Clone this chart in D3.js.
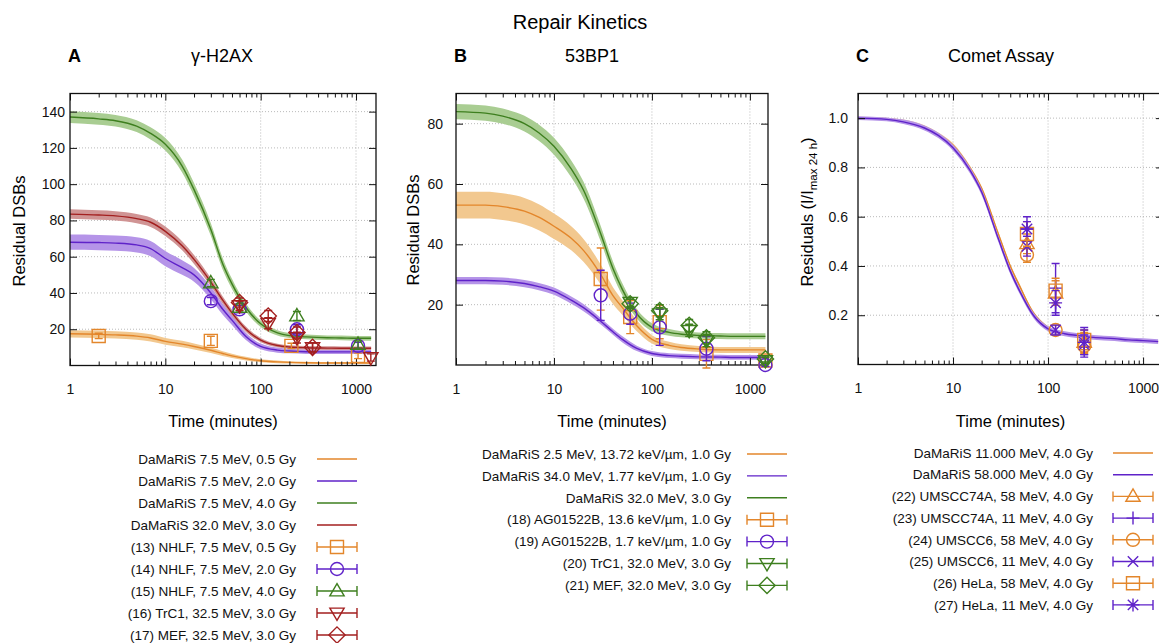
<!DOCTYPE html>
<html>
<head>
<meta charset="utf-8">
<script src="https://cdn.jsdelivr.net/npm/d3@7"></script>
<style>
  body { margin: 0; background: #fff; }
  svg { font-family: "Liberation Sans", Arial, Helvetica, sans-serif; }
</style>
</head>
<body>
<svg id="chart" width="1159" height="643"></svg>
<script>
// sample times (minutes) for the model curves
const times = [1, 2, 3, 5, 7, 10, 15, 20, 30, 40, 50, 70, 100, 150, 200, 300, 500, 700, 1000, 1440];

// ---- panel A (gamma-H2AX) model curves + band half widths
const aOrange = [17.5, 17.2, 16.9, 16.2, 15.2, 13.3, 11.8, 10.5, 8.4, 6.6, 5.3, 3.8, 2.6, 2.0, 1.7, 1.5, 1.4, 1.4, 1.4, 1.4];
const aOrangeBand = [2.0, 2.0, 2.0, 2.0, 2.0, 1.9, 1.8, 1.7, 1.5, 1.3, 1.2, 1.0, 0.8, 0.7, 0.6, 0.5, 0.5, 0.5, 0.5, 0.5];
const aPurple = [68, 67.8, 67.5, 66.5, 64.5, 59, 54, 50, 40, 31, 25, 16, 10.5, 8.5, 8, 7.6, 7.5, 7.5, 7.5, 7.5];
const aPurpleBand = [4.2, 4.2, 4.2, 4.2, 4.2, 4.2, 4.0, 3.8, 3.4, 3.0, 2.6, 2.0, 1.6, 1.4, 1.3, 1.2, 1.2, 1.2, 1.2, 1.2];
const aGreen = [137, 136, 135, 132, 128, 122, 110, 97, 75, 56, 45, 32, 23, 18, 16.5, 15.8, 15.3, 15.2, 15, 15];
const aGreenBand = [3.2, 3.2, 3.2, 3.3, 3.4, 3.5, 3.6, 3.6, 3.5, 3.2, 2.8, 2.2, 1.8, 1.5, 1.4, 1.3, 1.3, 1.3, 1.3, 1.3];
const aRed = [83.5, 83, 82.5, 81, 79, 74, 66, 58.5, 46, 36, 29, 20, 14, 11, 10.2, 9.8, 9.6, 9.5, 9.5, 9.5];
const aRedBand = [2.6, 2.6, 2.6, 2.6, 2.6, 2.6, 2.5, 2.5, 2.3, 2.0, 1.8, 1.5, 1.2, 1.0, 1.0, 1.0, 1.0, 1.0, 1.0, 1.0];

// panel A measurements
const nhlf05T = [2, 30, 210, 1050], nhlf05V = [16.3, 13.6, 10.8, 5.3], nhlf05E = [1.5, 2.5, 1.5, 1.5];
const nhlf20T = [30, 60, 240, 1050], nhlf20V = [35.5, 31, 20, 10.8], nhlf20E = [2, 2, 2.5, 2];
const nhlf40T = [30, 60, 240, 1050], nhlf40V = [45.5, 32, 27.3, 11.6], nhlf40E = [2, 2, 2.5, 2];
const trc1aT = [60, 120, 240, 350, 1430], trc1aV = [33, 23.3, 15.4, 9.9, 4.4], trc1aE = [2.5, 3, 3, 2.5, 2];
const mefaT = [60, 120, 240, 350], mefaV = [34.7, 27.3, 18.2, 10], mefaE = [2.5, 3, 3, 2.5];

// ---- panel B (53BP1)
const bOrange = [53, 53, 52.5, 51, 49, 46, 42, 38, 30, 23, 19, 13, 8.5, 6.5, 5.8, 5.3, 5, 5, 5, 5];
const bOrangeBand = [4.4, 4.4, 4.4, 4.4, 4.3, 4.2, 4.0, 3.8, 3.3, 2.8, 2.4, 1.8, 1.4, 1.2, 1.1, 1.0, 1.0, 1.0, 1.0, 1.0];
const bPurple = [28, 28, 27.8, 27, 26, 24.5, 21.5, 19, 14.5, 11, 8.5, 5.5, 3.8, 3.1, 2.9, 2.7, 2.6, 2.5, 2.5, 2.5];
const bPurpleBand = [1.2, 1.2, 1.2, 1.2, 1.2, 1.2, 1.2, 1.2, 1.1, 1.0, 1.0, 0.9, 0.8, 0.8, 0.8, 0.8, 0.8, 0.8, 0.8, 0.8];
const bGreen = [84, 83.5, 82.5, 80, 77, 72.5, 65, 58, 43.5, 32, 25, 17, 12.5, 10.8, 10.2, 9.8, 9.6, 9.5, 9.5, 9.5];
const bGreenBand = [2.5, 2.5, 2.5, 2.6, 2.7, 2.8, 2.8, 2.8, 2.6, 2.3, 2.0, 1.6, 1.3, 1.1, 1.0, 1.0, 1.0, 1.0, 1.0, 1.0];

const ag136T = [30, 60, 120, 360, 1440], ag136V = [28.5, 15.9, 14.2, 3.7, 1.5], ag136E = [10.3, 5.5, 5.5, 4.7, 1];
const ag17T = [30, 60, 120, 360, 1440], ag17V = [23.1, 17, 12.5, 5.4, 0], ag17E = [8.3, 3.5, 6, 4, 0.5];
const trc1bT = [60, 120, 240, 360, 1440], trc1bV = [20.8, 17, 11.5, 8.1, 1.5], trc1bE = [1.5, 2, 2, 2, 1];
const mefbT = [60, 120, 240, 360, 1440], mefbV = [20.3, 18, 13.1, 9, 2], mefbE = [1.5, 2, 2, 2, 1];

// ---- panel C (comet assay)
const cOrange = [1.0, 0.996, 0.988, 0.965, 0.935, 0.89, 0.80, 0.715, 0.53, 0.40, 0.32, 0.21, 0.15, 0.125, 0.118, 0.11, 0.105, 0.1, 0.097, 0.093];
const cOrangeBand = [0.006, 0.006, 0.006, 0.006, 0.007, 0.008, 0.008, 0.008, 0.008, 0.008, 0.008, 0.007, 0.006, 0.006, 0.006, 0.006, 0.006, 0.006, 0.006, 0.006];
const cPurple = [1.0, 0.995, 0.985, 0.96, 0.93, 0.88, 0.79, 0.70, 0.51, 0.38, 0.30, 0.20, 0.145, 0.125, 0.118, 0.11, 0.105, 0.1, 0.097, 0.093];
const cPurpleBand = [0.008, 0.008, 0.009, 0.01, 0.011, 0.012, 0.013, 0.013, 0.013, 0.013, 0.012, 0.011, 0.01, 0.01, 0.01, 0.01, 0.01, 0.01, 0.01, 0.01];

const cT = [60, 120, 240];
const u74a58V = [0.49, 0.29, 0.09], u74a58E = [0.04, 0.05, 0.04];
const u74a11V = [0.55, 0.31, 0.09], u74a11E = [0.05, 0.1, 0.06];
const u6_58V = [0.445, 0.14, 0.075], u6_58E = [0.03, 0.02, 0.03];
const u6_11V = [0.48, 0.14, 0.08], u6_11E = [0.04, 0.02, 0.04];
const hela58V = [0.53, 0.30, 0.10], hela58E = [0.05, 0.05, 0.04];
const hela11V = [0.55, 0.25, 0.09], hela11E = [0.03, 0.05, 0.05];

const col = { orange: '#e3862b', purple: '#5f22c9', green: '#3e7f1f', red: '#a31f1f' };
const bandCol = { orange: '#f2c88f', purple: '#b594e8', green: '#a9cd92', red: '#d09494' };

const svg = d3.select('#chart');

function shapePath(type, s) {
  const k = s * 0.8, d = s * 1.25;
  const plus = `M${-s},0H${s}M0,${-s}V${s}`;
  const times_ = `M${-k},${-k}L${k},${k}M${-k},${k}L${k},${-k}`;
  switch (type) {
    case 'square': return `M${-s},${-s}H${s}V${s}H${-s}Z`;
    case 'circle': return `M${s},0A${s},${s} 0 1,1 ${-s},0A${s},${s} 0 1,1 ${s},0Z`;
    case 'tri': return `M0,${-s * 1.15}L${s * 1.1},${s * 0.75}L${-s * 1.1},${s * 0.75}Z`;
    case 'tridown': return `M0,${s * 1.15}L${s * 1.1},${-s * 0.75}L${-s * 1.1},${-s * 0.75}Z`;
    case 'diamond': return `M0,${-d}L${d},0L0,${d}L${-d},0Z`;
    case 'plus': return plus;
    case 'times': return times_;
    case 'star': return plus + times_;
  }
}

function drawPanel(p) {
  const x = d3.scaleLog().domain(p.xDomain).range([p.left, p.right]);
  const y = d3.scaleLinear().domain(p.yDomain).range([p.bottom, p.top]);
  const g = svg.append('g');

  const clipId = 'clip' + p.id;
  g.append('clipPath').attr('id', clipId).append('rect')
    .attr('x', p.left).attr('y', p.top)
    .attr('width', p.right - p.left).attr('height', p.bottom - p.top);

  // grid
  g.selectAll('.gx').data([10, 100, 1000]).join('line')
    .attr('x1', d => x(d)).attr('x2', d => x(d))
    .attr('y1', p.top).attr('y2', p.bottom)
    .attr('stroke', '#a8a8a8').attr('stroke-width', 0.8).attr('stroke-dasharray', '1,2');
  g.selectAll('.gy').data(p.yTicks).join('line')
    .attr('x1', p.left).attr('x2', p.right)
    .attr('y1', d => y(d)).attr('y2', d => y(d))
    .attr('stroke', '#a8a8a8').attr('stroke-width', 0.8).attr('stroke-dasharray', '1,2');

  // model curves with bands
  const cg = g.append('g').attr('clip-path', `url(#${clipId})`);
  p.curves.forEach(c => {
    const pts = times.map((t, i) => ({ t, v: c.v[i], b: c.b[i] }));
    cg.append('path').datum(pts)
      .attr('fill', bandCol[c.color])
      .attr('d', d3.area().curve(d3.curveMonotoneX)
        .x(d => x(d.t)).y0(d => y(d.v - d.b)).y1(d => y(d.v + d.b)));
    cg.append('path').datum(pts)
      .attr('fill', 'none').attr('stroke', col[c.color]).attr('stroke-width', 1.4)
      .attr('d', d3.line().curve(d3.curveMonotoneX).x(d => x(d.t)).y(d => y(d.v)));
  });

  // axes (inward ticks)
  const minor = [];
  [1, 10, 100, 1000].forEach(dec => { for (let k = 2; k <= 9; k++) if (dec * k <= p.xDomain[1]) minor.push(dec * k); });
  const major = [1, 10, 100, 1000];

  const fixText = sel => sel.attr('font-family', null).attr('font-size', null);
  const bx = g.append('g').attr('transform', `translate(0,${p.bottom})`)
    .call(d3.axisBottom(x).tickValues(major).tickSize(-7).tickPadding(19).tickFormat(d3.format('d')));
  bx.call(fixText).selectAll('text').attr('font-size', 14).attr('fill', '#111');
  g.append('g').attr('transform', `translate(0,${p.bottom})`)
    .call(d3.axisBottom(x).tickValues(minor).tickSize(-4).tickFormat(''));
  g.append('g').attr('transform', `translate(0,${p.top})`)
    .call(d3.axisTop(x).tickValues(major).tickSize(-7).tickFormat(''));
  g.append('g').attr('transform', `translate(0,${p.top})`)
    .call(d3.axisTop(x).tickValues(minor).tickSize(-4).tickFormat(''));
  const ly = g.append('g').attr('transform', `translate(${p.left},0)`)
    .call(d3.axisLeft(y).tickValues(p.yTicks).tickSize(-7).tickPadding(p.yPad).tickFormat(p.yFmt));
  ly.call(fixText).selectAll('text').attr('font-size', 14).attr('fill', '#111');
  g.append('g').attr('transform', `translate(${p.right},0)`)
    .call(d3.axisRight(y).tickValues(p.yTicks).tickSize(-7).tickFormat(''));
  g.selectAll('.domain').remove();
  g.selectAll('.tick line').attr('stroke', '#111').attr('stroke-width', 1);

  // frame
  g.append('rect').attr('x', p.left).attr('y', p.top)
    .attr('width', p.right - p.left).attr('height', p.bottom - p.top)
    .attr('fill', 'none').attr('stroke', '#111').attr('stroke-width', 1.3);

  // measured points with error bars
  p.points.forEach(s => {
    const pg = g.append('g').attr('stroke', col[s.color]).attr('stroke-width', 1.4).attr('fill', 'none');
    s.t.forEach((t, i) => {
      const cx = x(t), cy = y(s.v[i]);
      const y0 = y(s.v[i] - s.e[i]), y1 = y(s.v[i] + s.e[i]);
      pg.append('path').attr('d', `M${cx},${y0}V${y1}M${cx - 4},${y0}H${cx + 4}M${cx - 4},${y1}H${cx + 4}`);
      pg.append('path').attr('transform', `translate(${cx},${cy})`).attr('d', shapePath(s.shape, 6.5));
    });
  });

  // titles and labels
  svg.append('text').attr('x', p.left - 2).attr('y', 62).attr('font-size', 18).attr('font-weight', 'bold').text(p.letter);
  svg.append('text').attr('x', p.titleX).attr('y', 62).attr('font-size', 18).attr('text-anchor', 'middle').text(p.title);
  svg.append('text').attr('x', (p.left + p.right) / 2).attr('y', 427).attr('font-size', 16.5)
    .attr('text-anchor', 'middle').text('Time (minutes)');
  const yl = svg.append('text').attr('transform', `translate(${p.yLabelX},${p.yLabelY}) rotate(-90)`)
    .attr('font-size', 16.5).attr('text-anchor', 'middle');
  p.yLabel(yl);

  // legend
  p.legend.forEach((e, i) => {
    const ry = p.legY + i * p.legStep;
    svg.append('text').attr('x', p.legText).attr('y', ry).attr('dy', '0.35em')
      .attr('text-anchor', 'end').attr('font-size', 13.5).attr('fill', '#111').text(e.label);
    const lg = svg.append('g').attr('stroke', col[e.color]).attr('stroke-width', 1.4).attr('fill', 'none');
    const [x1, x2] = p.legLine;
    if (!e.shape) {
      lg.append('path').attr('d', `M${x1},${ry}H${x2}`);
    } else {
      lg.append('path').attr('d', `M${x1},${ry}H${x2}M${x1},${ry - 5}V${ry + 5}M${x2},${ry - 5}V${ry + 5}`);
      lg.append('path').attr('transform', `translate(${(x1 + x2) / 2},${ry})`).attr('d', shapePath(e.shape, 6.5));
    }
  });
}

svg.append('text').attr('x', 580).attr('y', 29).attr('font-size', 20).attr('text-anchor', 'middle').text('Repair Kinetics');

drawPanel({
  id: 'A', letter: 'A', title: 'γ-H2AX', titleX: 222,
  left: 70, right: 376, top: 93.5, bottom: 365.5,
  xDomain: [1, 1620], yDomain: [0, 150], yTicks: [20, 40, 60, 80, 100, 120, 140], yPad: 5, yFmt: d3.format('d'),
  yLabelX: 25, yLabelY: 231, yLabel: t => t.text('Residual DSBs'),
  curves: [
    { v: aOrange, b: aOrangeBand, color: 'orange' },
    { v: aPurple, b: aPurpleBand, color: 'purple' },
    { v: aGreen, b: aGreenBand, color: 'green' },
    { v: aRed, b: aRedBand, color: 'red' }
  ],
  points: [
    { t: nhlf05T, v: nhlf05V, e: nhlf05E, color: 'orange', shape: 'square' },
    { t: nhlf20T, v: nhlf20V, e: nhlf20E, color: 'purple', shape: 'circle' },
    { t: nhlf40T, v: nhlf40V, e: nhlf40E, color: 'green', shape: 'tri' },
    { t: trc1aT, v: trc1aV, e: trc1aE, color: 'red', shape: 'tridown' },
    { t: mefaT, v: mefaV, e: mefaE, color: 'red', shape: 'diamond' }
  ],
  legText: 296, legLine: [317, 357], legY: 459, legStep: 22,
  legend: [
    { label: 'DaMaRiS 7.5 MeV, 0.5 Gy', color: 'orange' },
    { label: 'DaMaRiS 7.5 MeV, 2.0 Gy', color: 'purple' },
    { label: 'DaMaRiS 7.5 MeV, 4.0 Gy', color: 'green' },
    { label: 'DaMaRiS 32.0 MeV, 3.0 Gy', color: 'red' },
    { label: '(13) NHLF, 7.5 MeV, 0.5 Gy', color: 'orange', shape: 'square' },
    { label: '(14) NHLF, 7.5 MeV, 2.0 Gy', color: 'purple', shape: 'circle' },
    { label: '(15) NHLF, 7.5 MeV, 4.0 Gy', color: 'green', shape: 'tri' },
    { label: '(16) TrC1, 32.5 MeV, 3.0 Gy', color: 'red', shape: 'tridown' },
    { label: '(17) MEF, 32.5 MeV, 3.0 Gy', color: 'red', shape: 'diamond' }
  ]
});

drawPanel({
  id: 'B', letter: 'B', title: '53BP1', titleX: 592,
  left: 456, right: 768, top: 93.5, bottom: 365,
  xDomain: [1, 1530], yDomain: [0, 90], yTicks: [20, 40, 60, 80], yPad: 13, yFmt: d3.format('d'),
  yLabelX: 419, yLabelY: 230, yLabel: t => t.text('Residual DSBs'),
  curves: [
    { v: bOrange, b: bOrangeBand, color: 'orange' },
    { v: bPurple, b: bPurpleBand, color: 'purple' },
    { v: bGreen, b: bGreenBand, color: 'green' }
  ],
  points: [
    { t: ag136T, v: ag136V, e: ag136E, color: 'orange', shape: 'square' },
    { t: ag17T, v: ag17V, e: ag17E, color: 'purple', shape: 'circle' },
    { t: trc1bT, v: trc1bV, e: trc1bE, color: 'green', shape: 'tridown' },
    { t: mefbT, v: mefbV, e: mefbE, color: 'green', shape: 'diamond' }
  ],
  legText: 731, legLine: [747, 787], legY: 454, legStep: 21.9,
  legend: [
    { label: 'DaMaRiS 2.5 MeV, 13.72 keV/µm, 1.0 Gy', color: 'orange' },
    { label: 'DaMaRiS 34.0 MeV, 1.77 keV/µm, 1.0 Gy', color: 'purple' },
    { label: 'DaMaRiS 32.0 MeV, 3.0 Gy', color: 'green' },
    { label: '(18) AG01522B, 13.6 keV/µm, 1.0 Gy', color: 'orange', shape: 'square' },
    { label: '(19) AG01522B, 1.7 keV/µm, 1.0 Gy', color: 'purple', shape: 'circle' },
    { label: '(20) TrC1, 32.0 MeV, 3.0 Gy', color: 'green', shape: 'tridown' },
    { label: '(21) MEF, 32.0 MeV, 3.0 Gy', color: 'green', shape: 'diamond' }
  ]
});

drawPanel({
  id: 'C', letter: 'C', title: 'Comet Assay', titleX: 1001,
  left: 858, right: 1163, top: 93.5, bottom: 364.5,
  xDomain: [1, 1620], yDomain: [0, 1.1], yTicks: [0.2, 0.4, 0.6, 0.8, 1.0], yPad: 10, yFmt: d3.format('.1f'),
  yLabelX: 813, yLabelY: 212,
  yLabel: t => {
    t.append('tspan').text('Residuals (I/I');
    t.append('tspan').attr('font-size', 11.5).attr('dy', 4).text('max 24 h');
    t.append('tspan').attr('dy', -4).text(')');
  },
  curves: [
    { v: cOrange, b: cOrangeBand, color: 'orange' },
    { v: cPurple, b: cPurpleBand, color: 'purple' }
  ],
  points: [
    { t: cT, v: u74a58V, e: u74a58E, color: 'orange', shape: 'tri' },
    { t: cT, v: u74a11V, e: u74a11E, color: 'purple', shape: 'plus' },
    { t: cT, v: u6_58V, e: u6_58E, color: 'orange', shape: 'circle' },
    { t: cT, v: u6_11V, e: u6_11E, color: 'purple', shape: 'times' },
    { t: cT, v: hela58V, e: hela58E, color: 'orange', shape: 'square' },
    { t: cT, v: hela11V, e: hela11E, color: 'purple', shape: 'star' }
  ],
  legText: 1093, legLine: [1113, 1153], legY: 453, legStep: 21.7,
  legend: [
    { label: 'DaMaRiS 11.000 MeV, 4.0 Gy', color: 'orange' },
    { label: 'DaMaRiS 58.000 MeV, 4.0 Gy', color: 'purple' },
    { label: '(22) UMSCC74A, 58 MeV, 4.0 Gy', color: 'orange', shape: 'tri' },
    { label: '(23) UMSCC74A, 11 MeV, 4.0 Gy', color: 'purple', shape: 'plus' },
    { label: '(24) UMSCC6, 58 MeV, 4.0 Gy', color: 'orange', shape: 'circle' },
    { label: '(25) UMSCC6, 11 MeV, 4.0 Gy', color: 'purple', shape: 'times' },
    { label: '(26) HeLa, 58 MeV, 4.0 Gy', color: 'orange', shape: 'square' },
    { label: '(27) HeLa, 11 MeV, 4.0 Gy', color: 'purple', shape: 'star' }
  ]
});
</script>
</body>
</html>
